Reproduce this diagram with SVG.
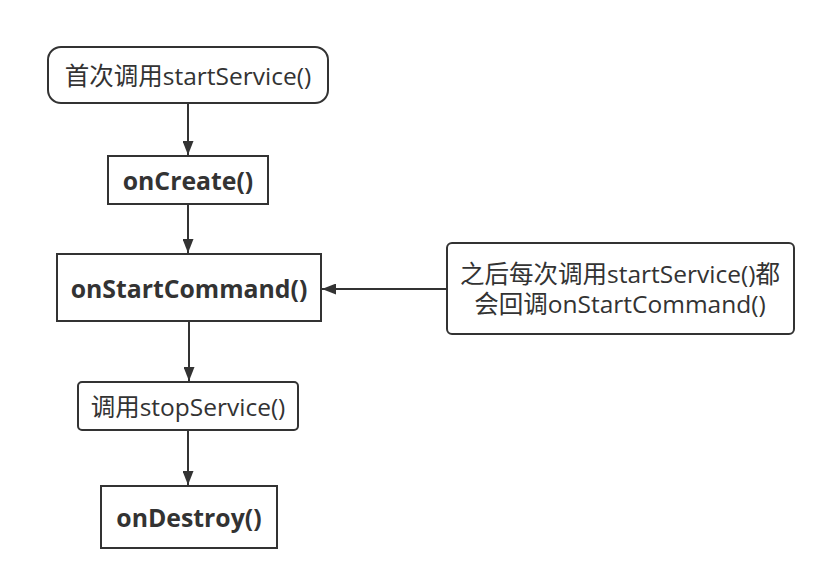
<svg xmlns="http://www.w3.org/2000/svg" width="825" height="580" viewBox="0 0 825 580">
<style>
.box{fill:#fff;stroke:#333;stroke-width:2}
.t{font-family:"Open Sans","Noto Sans CJK SC",sans-serif;font-size:24.5px;fill:#333;text-anchor:middle;dominant-baseline:central}
.b{font-weight:bold;font-size:24.8px}
.c{stroke:#333;stroke-width:2;fill:none;marker-end:url(#ah)}
</style>
<defs>
<marker id="ah" viewBox="0 0 10 10" refX="10" refY="5" markerWidth="14" markerHeight="11" markerUnits="userSpaceOnUse" orient="auto" preserveAspectRatio="none">
<path d="M0,0 L10,5 L0,10 Z" fill="#333"/>
</marker>
</defs>
<rect width="825" height="580" fill="#fff"/>
<g id="connectors">
<path class="c" d="M188,103 V155"/>
<path class="c" d="M188,204 V253"/>
<path class="c" d="M189,321 V381"/>
<path class="c" d="M188,430 V485"/>
<path class="c" d="M447,289 H322"/>
</g>
<g id="n1"><rect class="box" x="48" y="47" width="280" height="56" rx="13"/><text class="t" x="188" y="75">首次调用startService()</text></g>
<g id="n2"><rect class="box" x="108" y="156" width="160" height="48"/><text class="t b" x="188" y="180">onCreate()</text></g>
<g id="n3"><rect class="box" x="57" y="254" width="264" height="67"/><text class="t b" x="189" y="288">onStartCommand()</text></g>
<g id="n4"><rect class="box" x="78" y="382" width="220" height="48" rx="4"/><text class="t" x="188" y="406">调用stopService()</text></g>
<g id="n5"><rect class="box" x="101" y="486" width="176" height="62"/><text class="t b" x="189" y="517">onDestroy()</text></g>
<g id="n6"><rect class="box" x="447" y="243" width="347" height="91" rx="5"/><text class="t" x="620" y="273">之后每次调用startService()都</text><text class="t" x="620" y="303">会回调onStartCommand()</text></g>
</svg>
